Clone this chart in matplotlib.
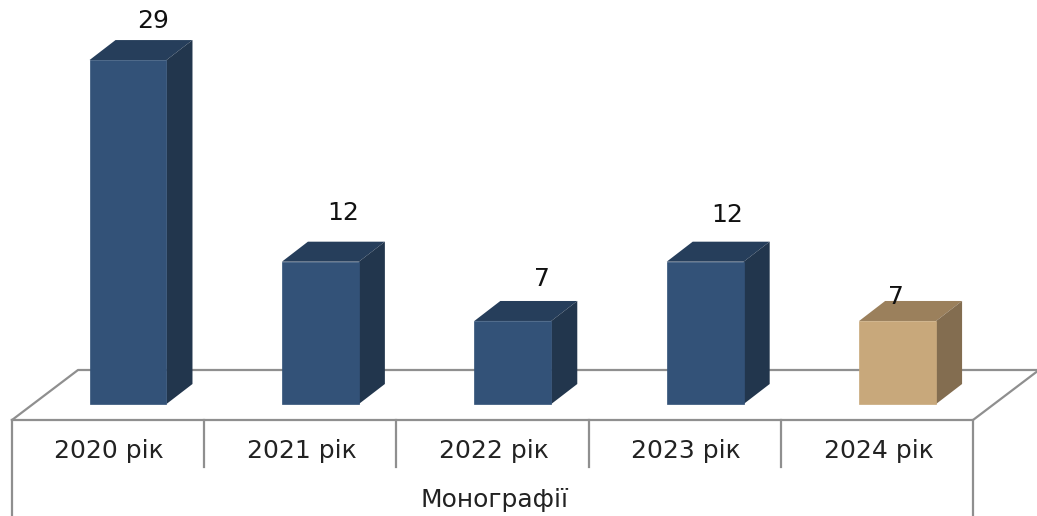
import matplotlib
matplotlib.use("Agg")
import matplotlib.pyplot as plt
from matplotlib.patches import Polygon

years = ["2020 рік", "2021 рік", "2022 рік", "2023 рік", "2024 рік"]
values = [29, 12, 7, 12, 7]
group_label = "Монографії"

front_cols = ["#335278", "#335278", "#335278", "#335278", "#c8a87b"]
top_cols = ["#263e5b", "#263e5b", "#263e5b", "#263e5b", "#9b805c"]
side_cols = ["#22364d", "#22364d", "#22364d", "#22364d", "#836d50"]

# label offset from the top of the front face, in pixels
label_dx = [25, 23, 29, 22, -2]
label_dy = [39, 49, 42, 47, 24]

px_x = 192.4   # pixels per category
px_y = 11.86   # pixels per unit
bar_w = 0.4
depth_x = 26 / px_x
depth_y = 20 / px_y
line_col = "#8f8f8f"

fig = plt.figure(figsize=(10.37, 5.16), dpi=100)
ax = fig.add_axes([0, 0, 1, 1])
ax.set_xlim(-128 / px_x, (1037 - 128) / px_x)
ax.set_ylim(-112 / px_y, 404 / px_y)
ax.axis("off")

# floor and category table
floor_y = -16 / px_y
back_y = 34 / px_y
left = -116 / px_x
right = 845 / px_x
dx = 66 / px_x
ax.plot([left, left + dx, right + dx], [floor_y, back_y, back_y], color=line_col, lw=1.6, zorder=1)
ax.plot([left, right, right + dx], [floor_y, floor_y, back_y], color=line_col, lw=1.6, zorder=1)
sep_y = -63 / px_y
for i in range(6):
    x = left + (right - left) * i / 5
    end = -112 / px_y if i in (0, 5) else sep_y
    ax.plot([x, x], [floor_y, end], color=line_col, lw=1.6, zorder=1)

# bars, faked 3d
bars = ax.bar(range(len(values)), values, width=bar_w, color=front_cols, edgecolor=front_cols, lw=0.5, zorder=3)
for i, b in enumerate(bars):
    x0 = b.get_x()
    x1 = x0 + b.get_width()
    h = b.get_height()
    ax.add_patch(Polygon([(x0, h), (x1, h), (x1 + depth_x, h + depth_y), (x0 + depth_x, h + depth_y)],
                         closed=True, facecolor=top_cols[i], edgecolor="none", zorder=2))
    ax.add_patch(Polygon([(x1, 0), (x1, h), (x1 + depth_x, h + depth_y), (x1 + depth_x, depth_y)],
                         closed=True, facecolor=side_cols[i], edgecolor="none", zorder=2))
    ax.annotate(str(values[i]), (i, h), xytext=(label_dx[i] * 0.72, label_dy[i] * 0.72),
                textcoords="offset points", ha="center", va="center", fontsize=18, color="#111111", zorder=4)
    ax.text(i - 19 / px_x, -47 / px_y, years[i], ha="center", va="center", fontsize=18, color="#222222")

ax.text(2 - 18 / px_x, -96 / px_y, group_label, ha="center", va="center", fontsize=18, color="#222222")

fig.savefig("out.png", dpi=100)
